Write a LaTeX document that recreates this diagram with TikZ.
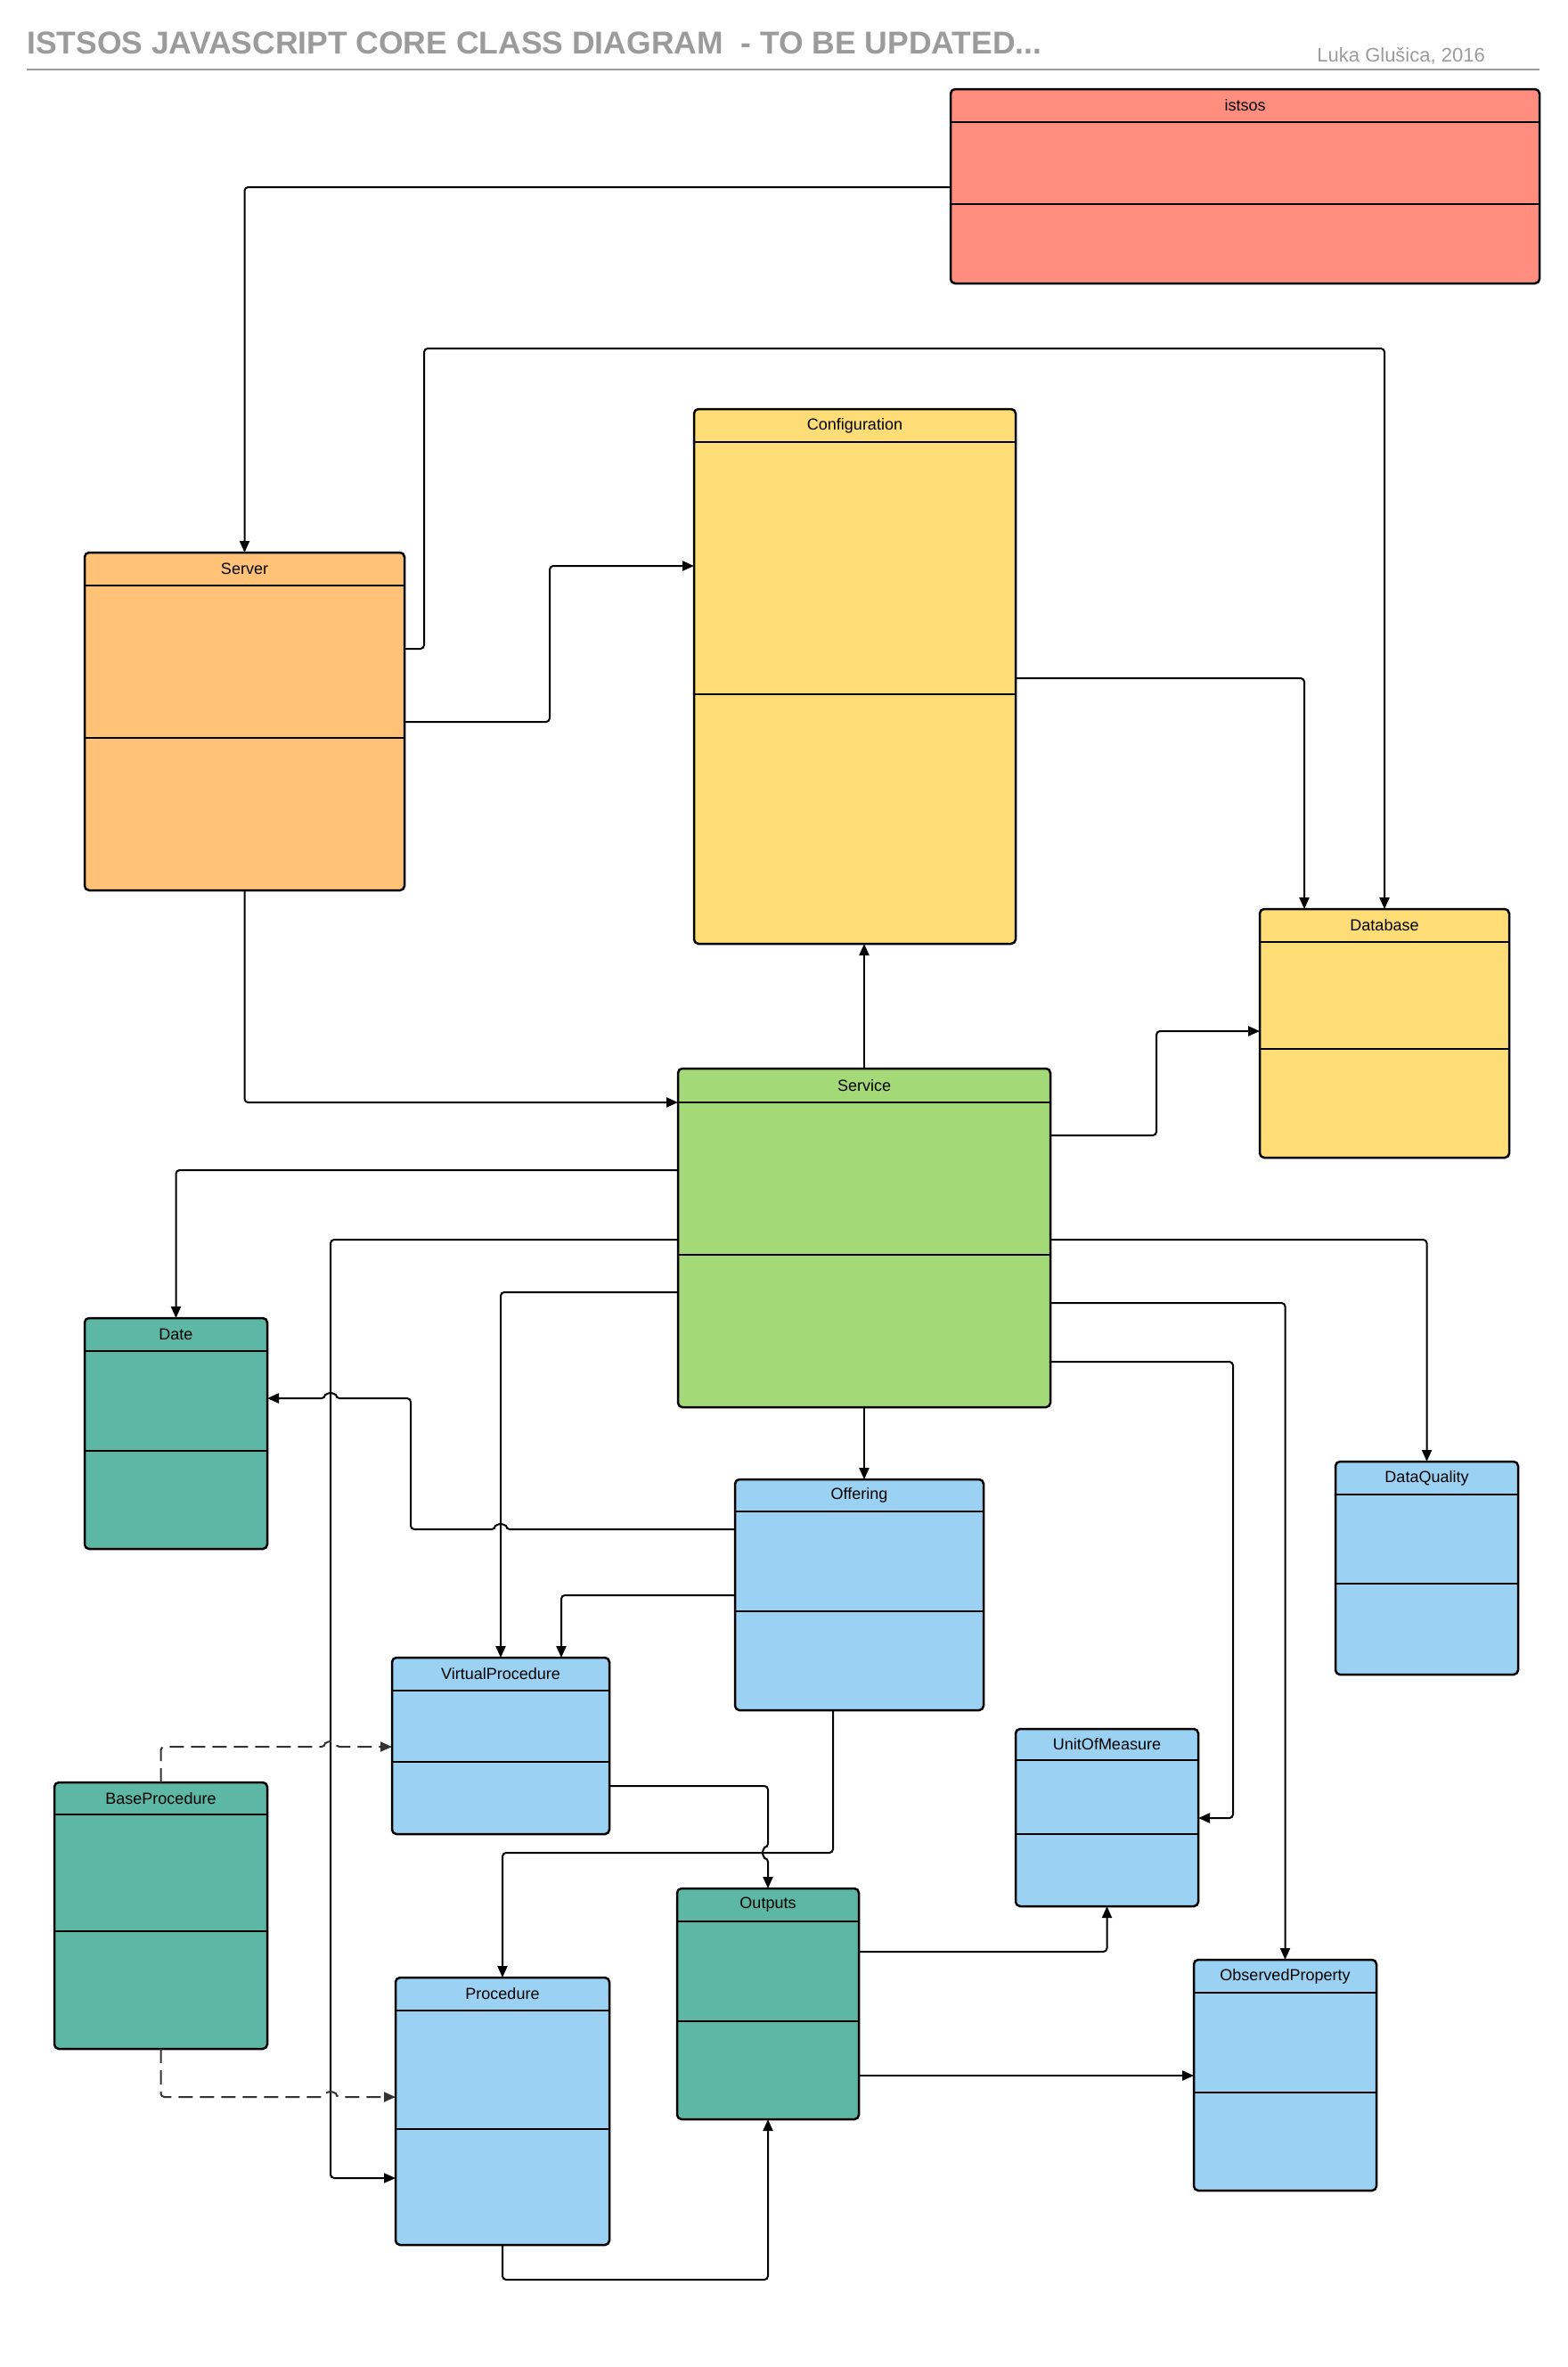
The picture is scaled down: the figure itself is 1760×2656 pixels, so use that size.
\documentclass[tikz,border=0pt]{standalone}
\usepackage{fontspec}
\setmainfont{Liberation Sans}
\usetikzlibrary{arrows.meta}

\definecolor{clsred}{HTML}{FF8E7F}
\definecolor{clsorange}{HTML}{FFC277}
\definecolor{clsyellow}{HTML}{FEDD76}
\definecolor{clsgreen}{HTML}{A3D977}
\definecolor{clsteal}{HTML}{5CB8A5}
\definecolor{clsblue}{HTML}{9BD2F3}
\definecolor{titlegray}{HTML}{9B9B9B}

\tikzset{
  classbox/.style={draw=black, line width=2.5pt, rounded corners=5pt,
    inner sep=0pt, outer sep=0pt},
  classline/.style={draw=black, line width=2.5pt},
  classname/.style={font=\fontsize{18}{20}\selectfont, inner sep=0pt},
  link/.style={-{Triangle[length=13pt,width=11pt]}, line width=2pt,
    rounded corners=4pt},
  reallink/.style={link, draw=black!80, dash pattern=on 16pt off 8pt}
}

% name, label, colour, x1, y1, x2, y2, header line, divider line
\newcommand{\umlclass}[9]{%
  \node[classbox, fill=#3, minimum width={(#6-#4)*1pt},
    minimum height={(#7-#5)*1pt}] (#1) at ({(#4+#6)/2},{(#5+#7)/2}) {};
  \draw[classline] (#4,#8) -- (#6,#8) (#4,#9) -- (#6,#9);
  \node[classname] (#1-name) at ({(#4+#6)/2},{(#5+#8)/2}) {#2};
}

\begin{document}
\begin{tikzpicture}[x=1pt, y=-1pt]
  \useasboundingbox (0,0) rectangle (1760,2656);

  % title
  \node[anchor=base west, inner sep=0pt, text=titlegray,
    font=\fontsize{35.5}{40}\selectfont\bfseries] (title) at (30,60)
    {ISTSOS JAVASCRIPT CORE CLASS DIAGRAM \ - TO BE UPDATED...};
  \node[anchor=base east, inner sep=0pt, text=titlegray,
    font=\fontsize{22}{26}\selectfont] (author) at (1667,69)
    {Luka Glušica, 2016};
  \draw[titlegray, line width=2pt] (30,78) -- (1728,78);

  % classes
  \umlclass{istsos}{istsos}{clsred}{1067}{100}{1728}{318}{137}{229}
  \umlclass{srv}{Server}{clsorange}{95}{620}{454}{999}{657}{828}
  \umlclass{conf}{Configuration}{clsyellow}{779}{459}{1140}{1059}{496}{779}
  \umlclass{db}{Database}{clsyellow}{1414}{1020}{1694}{1299}{1057}{1177}
  \umlclass{svc}{Service}{clsgreen}{761}{1199}{1179}{1579}{1237}{1408}
  \umlclass{date}{Date}{clsteal}{95}{1479}{300}{1738}{1516}{1628}
  \umlclass{off}{Offering}{clsblue}{825}{1660}{1104}{1919}{1696}{1808}
  \umlclass{dq}{DataQuality}{clsblue}{1499}{1640}{1704}{1879}{1677}{1777}
  \umlclass{vp}{VirtualProcedure}{clsblue}{440}{1860}{684}{2058}{1897}{1977}
  \umlclass{bp}{BaseProcedure}{clsteal}{61}{2000}{300}{2299}{2036}{2167}
  \umlclass{proc}{Procedure}{clsblue}{444}{2219}{684}{2519}{2256}{2389}
  \umlclass{outp}{Outputs}{clsteal}{760}{2119}{964}{2378}{2156}{2268}
  \umlclass{uom}{UnitOfMeasure}{clsblue}{1140}{1940}{1345}{2139}{1975}{2058}
  \umlclass{op}{ObservedProperty}{clsblue}{1340}{2199}{1545}{2458}{2236}{2348}

  % associations
  \draw[link] (istsos.west |- 0,210) -| (srv.north);
  \draw[link] (srv.east |- 0,728) -| (476,391) -| (db.north);
  \draw[link] (srv.east |- 0,810) -| (617,635) -- (conf.west |- 0,635);
  \draw[link] (conf.east |- 0,761) -| (db.north -| 1464,0);
  \draw[link] (srv.south) |- (svc.west |- 0,1237);
  \draw[link] (svc.north) -- (svc.north |- conf.south);
  \draw[link] (svc.east |- 0,1274) -| (1298,1157) -- (db.west |- 0,1157);
  \draw[link] (svc.west |- 0,1313) -| (date.north);
  \draw[link] (svc.west |- 0,1391) -| (371,2444) -- (proc.west |- 0,2444);
  \draw[link] (svc.west |- 0,1450) -| (vp.north);
  \draw[link] (svc.east |- 0,1391) -| (dq.north);
  \draw[link] (svc.east |- 0,1462) -| (op.north);
  \draw[link] (svc.east |- 0,1528) -| (1384,2040) -- (uom.east |- 0,2040);
  \draw[link] (svc.south) -- (svc.south |- off.north);
  \draw[link] (off.west |- 0,1716) -- (568,1716)
    arc[start angle=0, end angle=-180, radius=6] -- (461,1716)
    -- (461,1569) -- (377,1569)
    arc[start angle=0, end angle=-180, radius=6] -- (date.east |- 0,1569);
  \draw[link] (off.west |- 0,1790) -| (vp.north -| 630,0);
  \draw[link] (off.south -| 935,0) |- (proc.north |- 0,2079) -- (proc.north);
  \draw[link] (vp.east |- 0,2004) -| (862,2073)
    arc[start angle=270, end angle=90, radius=6] -- (outp.north);
  \draw[link] (outp.east |- 0,2190) -| (uom.south);
  \draw[link] (outp.east |- 0,2329) -- (op.west |- 0,2329);
  \draw[link] (proc.south) |- (outp.south |- 0,2558) -- (outp.south);

  % realizations
  \draw[reallink] (bp.north) |- (365,1960)
    arc[start angle=180, end angle=360, radius=6] -- (vp.west |- 0,1960);
  \draw[reallink] (bp.south) |- (365,2353)
    arc[start angle=180, end angle=360, radius=6] -- (proc.west |- 0,2353);
\end{tikzpicture}
\end{document}
